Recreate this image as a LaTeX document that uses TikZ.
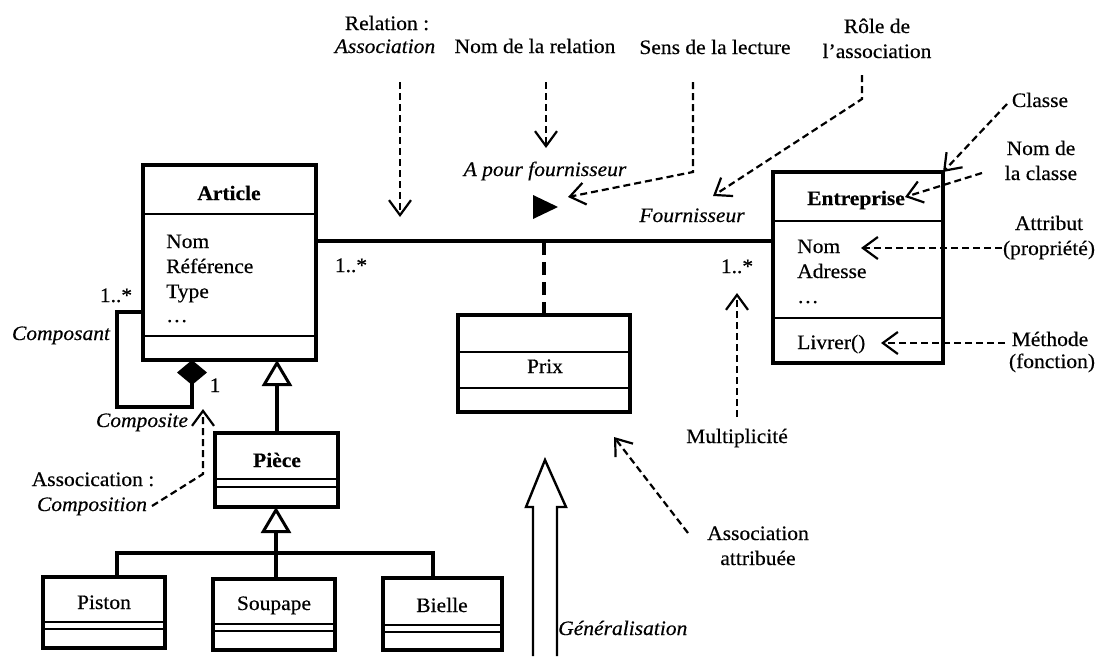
\documentclass[tikz,border=0pt]{standalone}
\usepackage{fontspec}
\setmainfont{Liberation Serif}[FakeStretch=1.05,FakeBold=0.4]
\usetikzlibrary{arrows.meta}
\newcommand\diagsz{\fontsize{20.5}{24}\selectfont}
\begin{document}
\begin{tikzpicture}[x=1pt,y=-1pt,
  font=\diagsz,
  cls/.style={draw, line width=3.2pt, anchor=north west, inner sep=0pt, outer sep=0pt},
  sepline/.style={line width=2.2pt},
  txt/.style={inner sep=0pt, anchor=base},
  txtl/.style={inner sep=0pt, anchor=base west},
  bold/.style={font=\diagsz\bfseries},
  ital/.style={font=\diagsz\itshape},
  ann/.style={line width=2.2pt, dash pattern=on 7pt off 4pt,
     -{Straight Barb[length=15pt,width=22pt,line width=2.2pt]}},
  assoc/.style={line width=3.2pt},
  gen/.style={line width=3.2pt, -{Triangle[open,length=26pt,width=30pt,fill=white,line width=3pt]}},
]
\useasboundingbox (0,0) rectangle (1100,656);

% ---------------- classes ----------------
\node[cls, minimum width=173pt, minimum height=195pt] (article) at (143,165) {};
\draw[sepline] (article.west |- 0,214) -- (article.east |- 0,214);
\draw[sepline] (article.west |- 0,336) -- (article.east |- 0,336);
\node[txt, bold] (articleT) at (229,200) {Article};
\node[txtl] (articleA1) at (166,248) {Nom};
\node[txtl] (articleA2) at (166,273) {Référence};
\node[txtl] (articleA3) at (166,298) {Type};
\node[txtl] (articleA4) at (166,322) {…};

\node[cls, minimum width=170pt, minimum height=191pt] (entreprise) at (773,172) {};
\draw[sepline] (entreprise.west |- 0,221) -- (entreprise.east |- 0,221);
\draw[sepline] (entreprise.west |- 0,318) -- (entreprise.east |- 0,318);
\node[txt, bold] (entrepriseT) at (856,205) {Entreprise};
\node[txtl] (entrepriseA1) at (797,253) {Nom};
\node[txtl] (entrepriseA2) at (797,278) {Adresse};
\node[txtl] (entrepriseA3) at (797,303) {…};
\node[txtl] (entrepriseM1) at (797,349) {Livrer()};

\node[cls, minimum width=172pt, minimum height=97pt] (prix) at (458,315) {};
\draw[sepline] (prix.west |- 0,352) -- (prix.east |- 0,352);
\draw[sepline] (prix.west |- 0,388) -- (prix.east |- 0,388);
\node[txt] (prixA) at (545,373) {Prix};

\node[cls, minimum width=123pt, minimum height=74pt] (piece) at (215,433) {};
\draw[sepline] (piece.west |- 0,479) -- (piece.east |- 0,479);
\draw[sepline] (piece.west |- 0,487) -- (piece.east |- 0,487);
\node[txt, bold] (pieceT) at (277,467) {Pièce};

\node[cls, minimum width=122pt, minimum height=71pt] (piston) at (43,577) {};
\draw[sepline] (piston.west |- 0,622) -- (piston.east |- 0,622);
\draw[sepline] (piston.west |- 0,629) -- (piston.east |- 0,629);
\node[txt] (pistonT) at (104,609) {Piston};

\node[cls, minimum width=122pt, minimum height=71pt] (soupape) at (213,579) {};
\draw[sepline] (soupape.west |- 0,624) -- (soupape.east |- 0,624);
\draw[sepline] (soupape.west |- 0,631) -- (soupape.east |- 0,631);
\node[txt] (soupapeT) at (274,610) {Soupape};

\node[cls, minimum width=119pt, minimum height=72pt] (bielle) at (383,578) {};
\draw[sepline] (bielle.west |- 0,625) -- (bielle.east |- 0,625);
\draw[sepline] (bielle.west |- 0,632) -- (bielle.east |- 0,632);
\node[txt] (bielleT) at (442,612) {Bielle};

% ---------------- association ----------------
\draw[assoc] (article.east |- 0,241) -- (entreprise.west |- 0,241);
\node[txt] (multA) at (351,272) {1..*};
\node[txt] (multE) at (737,273) {1..*};
\node[txt, ital] (nomrel) at (545,176) {A pour fournisseur};
\node[txt, ital] (role) at (692,222) {Fournisseur};
\fill (533,195) -- (558,207) -- (533,219) -- cycle;
\coordinate (sensTip) at (568,197);
\draw[line width=3.2pt, dash pattern=on 13pt off 7pt] (prix.north -| 544,0) -- (544,241);

% ---------------- composition ----------------
\draw[assoc, -{Diamond[length=25pt,width=30pt]}]
  (article.west |- 0,312) -| (117,407) -| (article.south -| 192,0);
\node[txt] (compM1) at (116,302) {1..*};
\node[txt, ital] (compR1) at (61,340) {Composant};
\node[txt] (compM2) at (215,392) {1};
\node[txt, ital] (compR2) at (142,427) {Composite};

% ---------------- generalisations ----------------
\draw[gen] (piece.north -| 277,0) -- (article.south -| 277,0);
\coordinate (tree) at (276,553);
\draw[gen] (soupape.north -| 276,0) -- (piece.south -| 276,0);
\draw[assoc] (piston.north -| 117,0) |- (tree) -| (bielle.north -| 433,0);

% big generalisation arrow
\draw[line width=2.4pt] (533,656) -- (533,507) -- (526,507) -- (545,460)
  -- (566,507) -- (557,507) -- (557,656);
\node[txtl, ital] (genL) at (558,635) {Généralisation};

% ---------------- annotations ----------------
\node[txt] (relL1) at (387,30) {Relation :};
\node[txt, ital] (relL2) at (385,53) {Association};
\coordinate (relS) at (400,82);
\coordinate (relE) at (400,217);
\draw[ann] (relS) -- (relE);

\node[txt] (nomL) at (535,53) {Nom de la relation};
\coordinate (nomS) at (546,82);
\coordinate (nomE) at (546,148);
\draw[ann] (nomS) -- (nomE);

\node[txt] (sensL) at (715,54) {Sens de la lecture};
\coordinate (sensS) at (693,82);
\draw[ann] (sensS) -- (693,172) -- (sensTip);

\node[txt] (roleL1) at (877,33) {Rôle de};
\node[txt] (roleL2) at (877,58) {l’association};
\coordinate (roleS) at (862,75);
\coordinate (roleE) at (713,196);
\draw[ann] (roleS) -- (862,99) -- (roleE);

\node[txt] (classeL) at (1040,107) {Classe};
\coordinate (classeS) at (1007,104);
\draw[ann] (classeS) -- (entreprise.north east);

\node[txt] (nomclL1) at (1041,155) {Nom de};
\node[txt] (nomclL2) at (1041,180) {la classe};
\coordinate (nomclS) at (982,173);
\coordinate (nomclE) at (905,197);
\draw[ann] (nomclS) -- (nomclE);

\node[txt] (attrL1) at (1049,230) {Attribut};
\node[txt] (attrL2) at (1049,255) {(propriété)};
\coordinate (attrS) at (1002,248);
\coordinate (attrE) at (861,248);
\draw[ann] (attrS) -- (attrE);

\node[txt] (methL1) at (1050,346) {Méthode};
\node[txt] (methL2) at (1052,368) {(fonction)};
\coordinate (methS) at (1005,343);
\coordinate (methE) at (881,343);
\draw[ann] (methS) -- (methE);

\node[txt] (multL) at (737,443) {Multiplicité};
\coordinate (multS) at (737,417);
\coordinate (multE2) at (737,293);
\draw[ann] (multS) -- (multE2);

\node[txt] (aaL1) at (758,540) {Association};
\node[txt] (aaL2) at (758,565) {attribuée};
\coordinate (aaS) at (688,533);
\coordinate (aaE) at (614,437);
\draw[ann] (aaS) -- (aaE);

\node[txt] (acL1) at (93,486) {Assocication :};
\node[txt, ital] (acL2) at (92,511) {Composition};
\coordinate (acS) at (152,506);
\coordinate (acE) at (203,409);
\draw[ann] (acS) -- (203,474) -- (acE);
\end{tikzpicture}
\end{document}
